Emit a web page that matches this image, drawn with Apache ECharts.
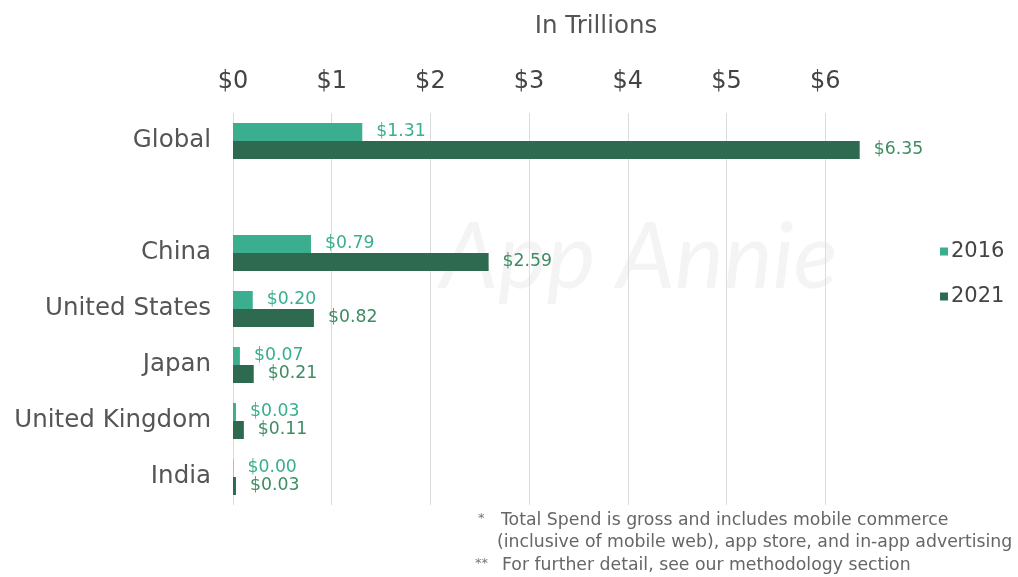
<!DOCTYPE html>
<html><head><meta charset="utf-8">
<script src="https://cdn.jsdelivr.net/npm/echarts@6/dist/echarts.min.js"></script>
<style>html,body{margin:0;padding:0;background:#fff}#c{width:1018px;height:577px}</style>
</head><body><div id="c"></div>
<script>
var categories = ['Global', '', 'China', 'United States', 'Japan', 'United Kingdom', 'India'];
var spend2016 = [1.31, null, 0.79, 0.20, 0.07, 0.03, 0.004];
var spend2021 = [6.35, null, 2.59, 0.82, 0.21, 0.11, 0.03];
var tickValues = [0, 1, 2, 3, 4, 5, 6];
var footnotes = [
  ['*', 'Total Spend is gross and includes mobile commerce'],
  ['', '(inclusive of mobile web), app store, and in-app advertising'],
  ['**', 'For further detail, see our methodology section']
];
var FONT = '"DejaVu Sans"';
var chart = echarts.init(document.getElementById('c'));
function lbl(color){
  return {show:true, position:'right', distance:14, color:color, fontSize:17.3, fontFamily:FONT,
    formatter:function(p){return p.value==null?'':'$'+p.value.toFixed(2);}};
}
var gridColors = tickValues.map(function(){return '#dcdcdc';}).concat(['rgba(0,0,0,0)']);
var graphics = [
  {type:'text', left:440, top:212, z:-1, style:{text:'App Annie', fontSize:92, fontStyle:'italic', fontFamily:'Lato', fill:'#f4f4f4'}}
];
var fy = [521, 543, 566];
var fx = [[478, 501], [0, 497], [475, 502]];
footnotes.forEach(function(f, i){
  if (f[0]) graphics.push({type:'text', x:fx[i][0], y:fy[i]-2, style:{text:f[0], fontSize:13, fontFamily:FONT, fill:'#777', verticalAlign:'middle'}});
  graphics.push({type:'text', x:fx[i][1], y:fy[i], style:{text:f[1], fontSize:17.3, fontFamily:FONT, fill:'#666', verticalAlign:'middle'}});
});
graphics.push({type:'text', x:596, y:27, style:{text:'In Trillions', fontSize:24.5, fontFamily:FONT, fill:'#555', align:'center', verticalAlign:'middle'}});
chart.setOption({
  animation:false,
  grid:{left:233, top:113, width:641.5, height:392, containLabel:false},
  legend:{data:['2016','2021'], orient:'vertical', left:935, top:236, icon:'rect', itemWidth:8, itemHeight:8, itemGap:24,
    textStyle:{fontSize:21, fontFamily:FONT, color:'#444', padding:[0,0,0,-2]}},
  xAxis:{type:'value', position:'top', min:0, max:6.5, interval:1,
    axisLine:{show:false}, axisTick:{show:false},
    axisLabel:{fontSize:24, fontFamily:FONT, color:'#444', margin:19,
      formatter:function(v){return tickValues.indexOf(v)>=0 ? '$'+v : '';}},
    splitLine:{show:true, lineStyle:{color:gridColors, width:1}}},
  yAxis:{type:'category', data:categories, inverse:true,
    axisLine:{show:false}, axisTick:{show:false},
    axisLabel:{fontSize:24.5, fontFamily:FONT, color:'#555', margin:22}},
  series:[
    {name:'2016', type:'bar', data:spend2016, barWidth:18, barGap:'0%', itemStyle:{color:'#3aae8f'}, label:lbl('#3aae8f')},
    {name:'2021', type:'bar', data:spend2021, barWidth:18, barGap:'0%', itemStyle:{color:'#2e6a50'}, label:lbl('#3f8c62')}
  ],
  graphic:graphics
});
</script></body></html>
